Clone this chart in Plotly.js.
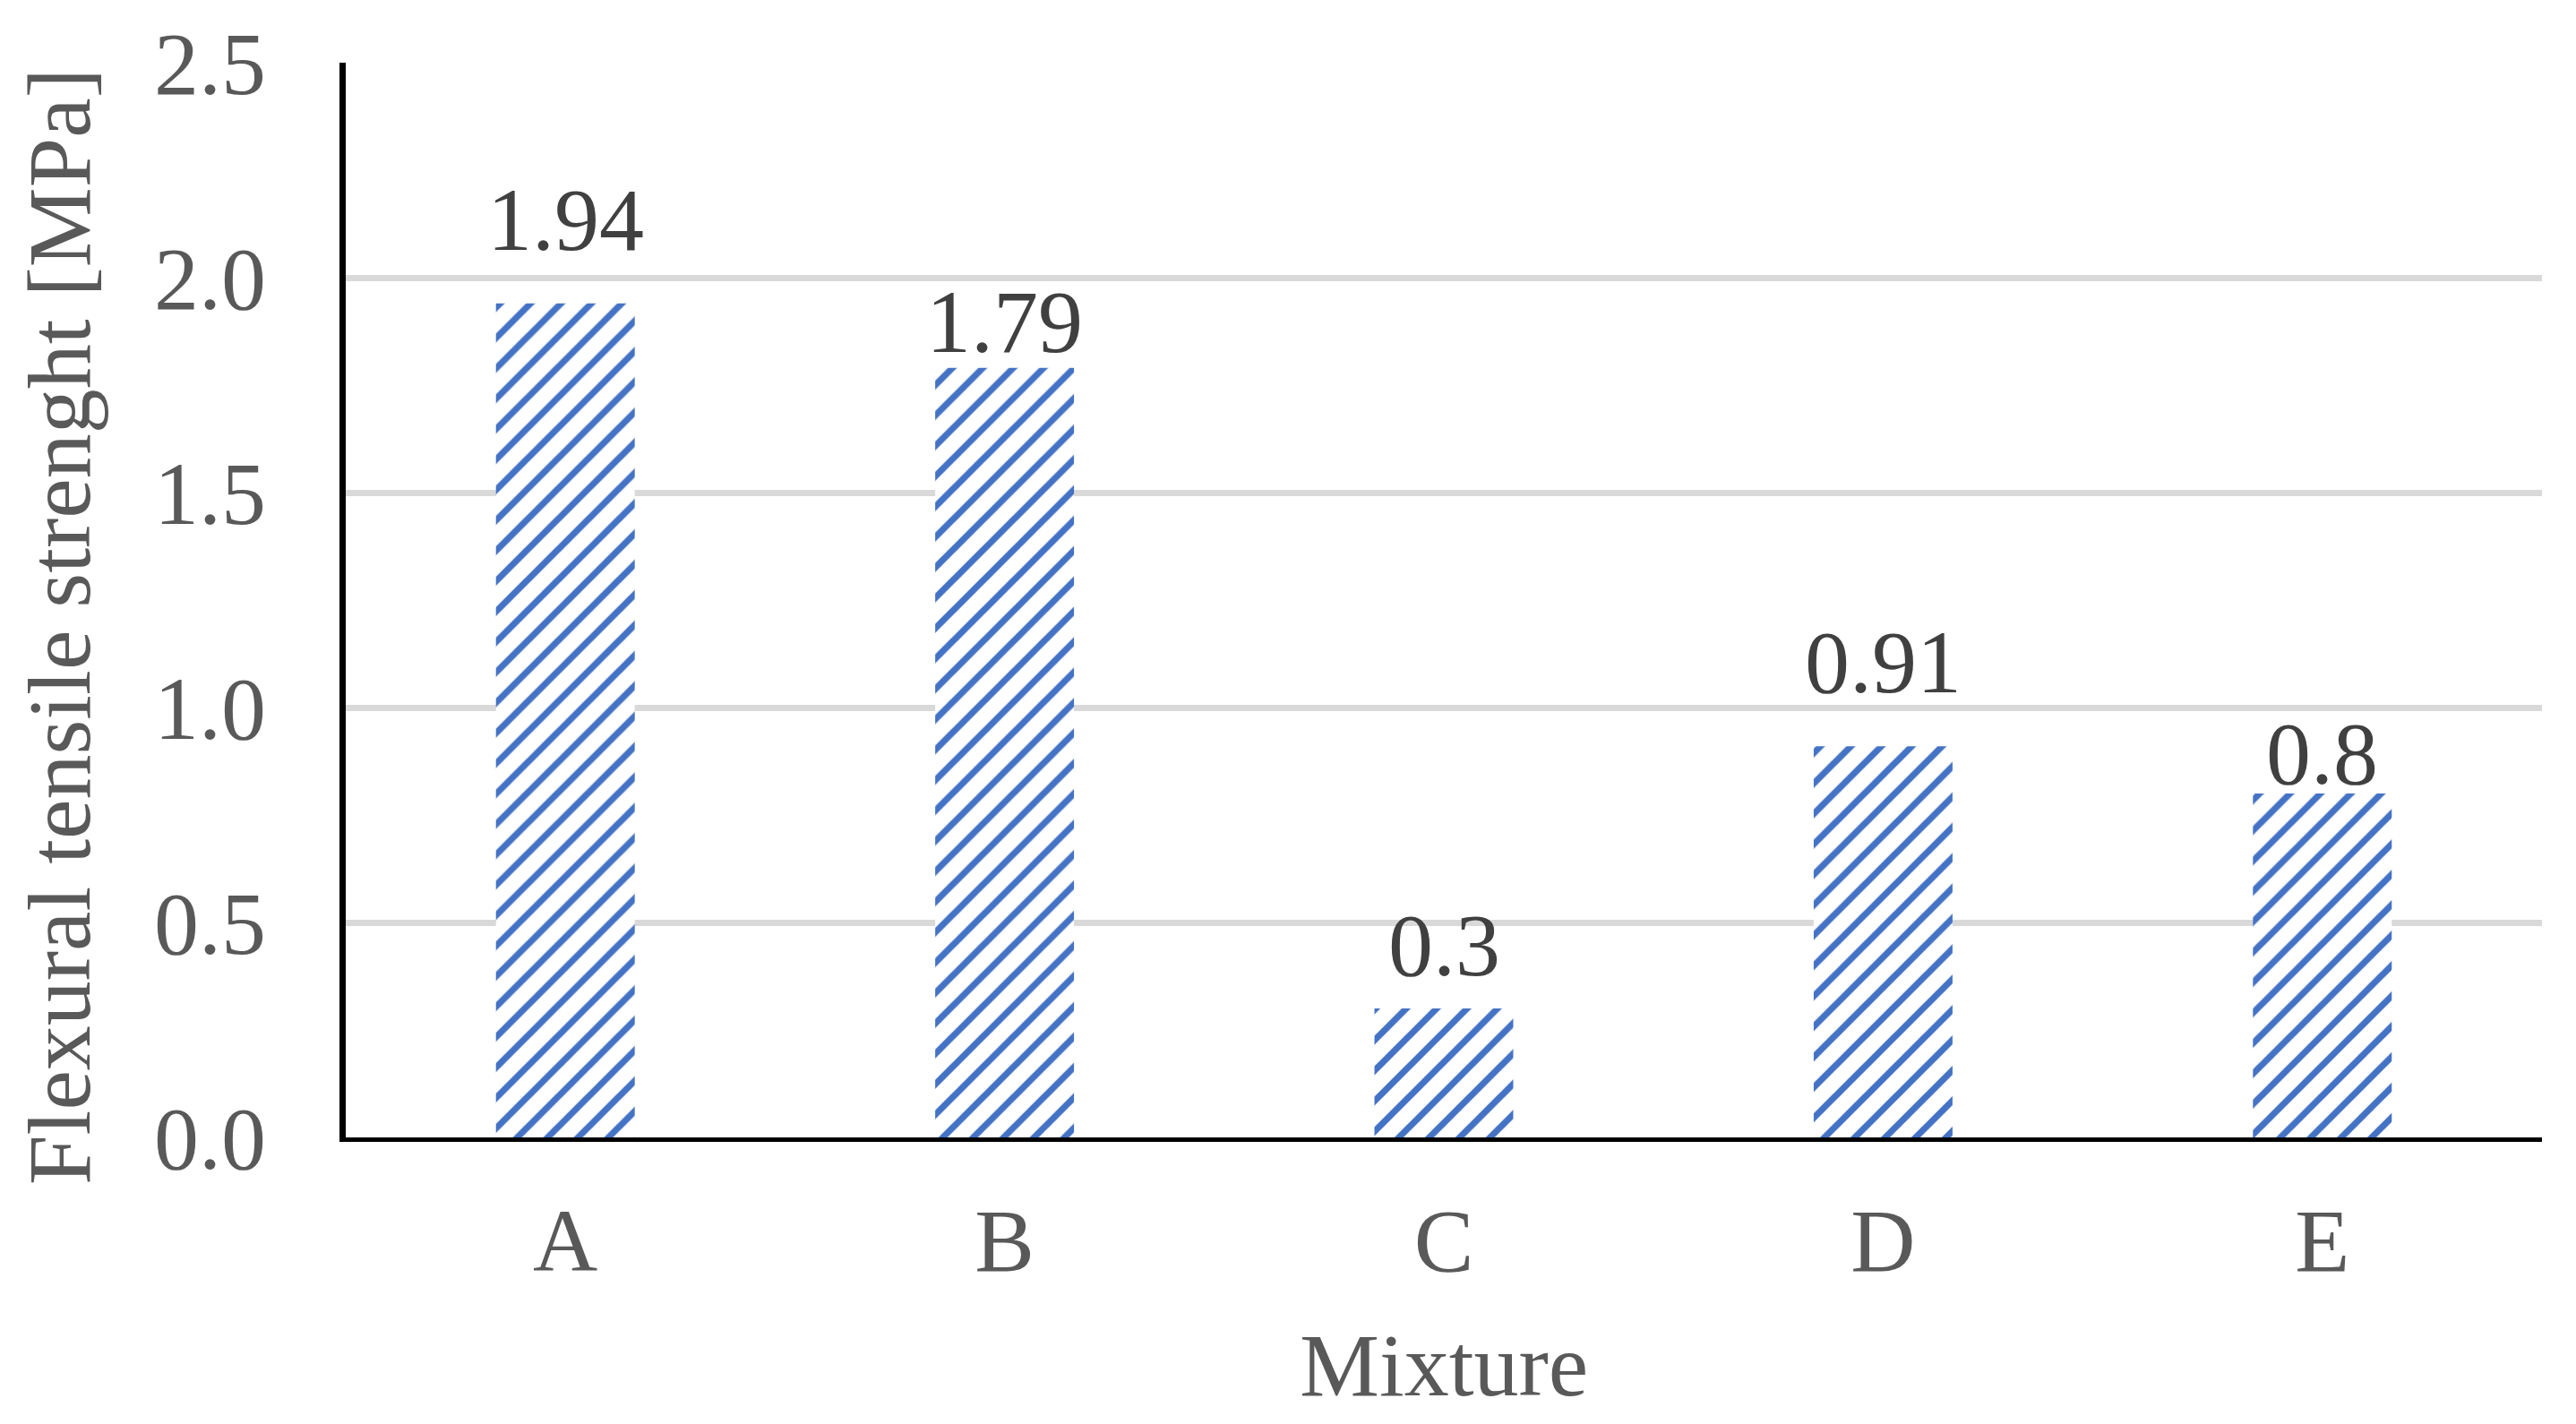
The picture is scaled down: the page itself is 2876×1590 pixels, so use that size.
<!DOCTYPE html>
<html>
<head>
<meta charset="utf-8">
<script src="https://cdn.plot.ly/plotly-3.0.1.min.js"></script>
<style>
  html, body { margin: 0; padding: 0; background: #ffffff; }
  #chart { width: 2876px; height: 1590px; }
</style>
</head>
<body>
<div id="chart"></div>
<script>
// ---- Data ----
const mixtures = ["A", "B", "C", "D", "E"];
const strength = [1.94, 1.79, 0.3, 0.91, 0.8];
const labelText = ["1.94", "1.79", "0.3", "0.91", "0.8"];
const yTickVals = [0, 0.5, 1.0, 1.5, 2.0, 2.5];
const yTickText = ["0.0", "0.5", "1.0", "1.5", "2.0", "2.5"];

// ---- Styles ----
const labelShift = [36, -6, 13, 36, -13];   // px offset of each value label above its bar
const FONT = "Liberation Serif, Times New Roman, serif";

const trace = {
  type: "bar",
  x: mixtures,
  y: strength,
  marker: {
    color: "#ffffff",
    line: { width: 0 },
    pattern: { shape: "/", fgcolor: "#4472C4", bgcolor: "#ffffff", size: 24, solidity: 0.3, fillmode: "replace" }
  },
  hoverinfo: "x+y"
};

const annotations = mixtures.map((m, i) => ({
  x: m, y: strength[i], xref: "x", yref: "y",
  text: labelText[i], showarrow: false,
  xanchor: "center", yanchor: "bottom", yshift: labelShift[i],
  font: { family: FONT, size: 100, color: "#404040" }
}));

annotations.push({
  xref: "paper", yref: "paper", x: 0, y: 0.475, xshift: -320,
  text: "Flexural tensile strenght [MPa]", textangle: -90, showarrow: false,
  xanchor: "center", yanchor: "middle",
  font: { family: FONT, size: 100, color: "#595959" }
});
annotations.push({
  xref: "paper", yref: "paper", x: 0.5, y: -0.26,
  text: "Mixture", showarrow: false,
  xanchor: "center", yanchor: "bottom",
  font: { family: FONT, size: 100, color: "#595959" }
});

const layout = {
  width: 2876, height: 1590,
  margin: { l: 386, r: 38, t: 70, b: 320, pad: 0 },
  paper_bgcolor: "#ffffff", plot_bgcolor: "#ffffff",
  showlegend: false,
  bargap: 0.684,
  xaxis: {
    type: "category",
    showline: true, linecolor: "#000000", linewidth: 5,
    showgrid: false, zeroline: false,
    ticks: "", ticklabelstandoff: 24,
    tickfont: { family: FONT, size: 100, color: "#595959" }
  },
  yaxis: {
    range: [0, 2.5],
    tickvals: yTickVals, ticktext: yTickText,
    showline: true, linecolor: "#000000", linewidth: 7,
    showgrid: true, gridcolor: "#D9D9D9", gridwidth: 7,
    zeroline: false,
    ticks: "", ticklabelstandoff: 62,
    tickfont: { family: FONT, size: 100, color: "#595959" }
  },
  annotations: annotations
};

Plotly.newPlot("chart", [trace], layout, { displayModeBar: false, staticPlot: true });
</script>
</body>
</html>
